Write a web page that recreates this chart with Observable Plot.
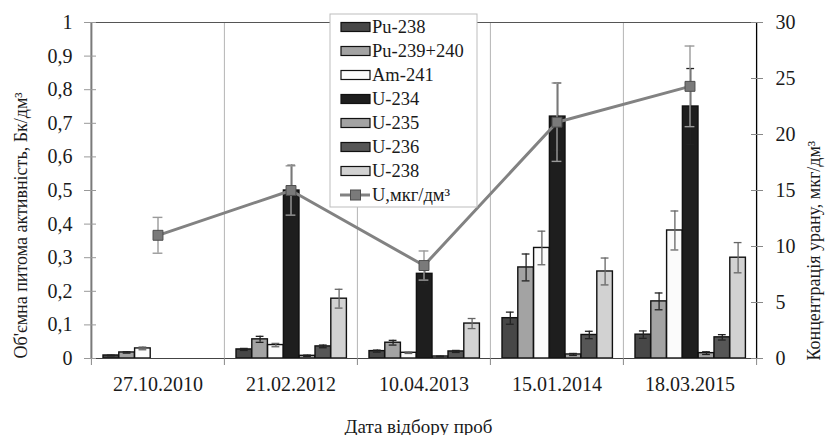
<!DOCTYPE html>
<html><head><meta charset="utf-8">
<script src="https://cdn.jsdelivr.net/npm/d3@7"></script>
<script src="https://cdn.jsdelivr.net/npm/@observablehq/plot@0.6"></script>
<style>
body{margin:0;background:#fff}
#chart{width:825px;height:435px;position:relative}
</style>
</head><body><div id="chart"></div>
<script>
// ---- data ----
const dates = ["27.10.2010", "21.02.2012", "10.04.2013", "15.01.2014", "18.03.2015"];
const isotopes = ["Pu-238", "Pu-239+240", "Am-241", "U-234", "U-235", "U-236", "U-238"];
const pu238 = [0.009, 0.027, 0.022, 0.120, 0.071];
const pu238Err = [0.001, 0.003, 0.003, 0.018, 0.011];
const pu239 = [0.018, 0.057, 0.047, 0.271, 0.170];
const pu239Err = [0.002, 0.009, 0.007, 0.040, 0.025];
const am241 = [0.030, 0.040, 0.017, 0.329, 0.381];
const am241Err = [0.004, 0.005, 0.002, 0.050, 0.058];
const u234 = [null, 0.500, 0.252, 0.720, 0.750];
const u234Err = [null, 0.075, 0.030, 0.100, 0.113];
const u235 = [null, 0.008, 0.006, 0.012, 0.016];
const u235Err = [null, 0.002, 0.001, 0.003, 0.004];
const u236 = [null, 0.036, 0.021, 0.070, 0.063];
const u236Err = [null, 0.004, 0.003, 0.011, 0.008];
const u238 = [null, 0.178, 0.104, 0.259, 0.300];
const u238Err = [null, 0.028, 0.015, 0.040, 0.045];
const uConc = [11.0, 15.0, 8.3, 21.1, 24.3];
const uConcErr = [1.6, 2.2, 1.3, 3.5, 3.6];
const lineName = "U,мкг/дм³";
const yTitle = "Об'ємна питома активність, Бк/дм³";
const y2Title = "Концентрація урану, мкг/дм³";
const xTitle = "Дата відбору проб";
const leftTicks = [0, 0.1, 0.2, 0.3, 0.4, 0.5, 0.6, 0.7, 0.8, 0.9, 1];
const rightTicks = [0, 5, 10, 15, 20, 25, 30];
const rightMax = 30;

const values = [pu238, pu239, am241, u234, u235, u236, u238];
const errors = [pu238Err, pu239Err, am241Err, u234Err, u235Err, u236Err, u238Err];
const colors = ["#474747", "#a3a3a3", "#fbfbfb", "#1e1e1e", "#a3a3a3", "#565656", "#d2d2d2"];

// ---- layout ----
const W = 825, H = 435, mL = 90, mR = 69, mT = 22, mB = 77;
const band = (W - mL - mR) / dates.length;
const groupPad = 12, barW = 15.8;
const font = "Liberation Serif, DejaVu Serif, serif";

const rows = [];
isotopes.forEach((iso, i) => dates.forEach((d, g) => {
  const v = values[i][g];
  if (v != null) rows.push({date: d, iso, v, e: errors[i][g]});
}));
const uRows = dates.map((d, g) => ({date: d, c: uConc[g], e: uConcErr[g]}));

const barMarks = [], errMarks = [];
isotopes.forEach((iso, i) => {
  const data = rows.filter(r => r.iso === iso);
  const left = groupPad + i * barW;
  const right = band - left - barW;
  const c = left + barW / 2 - band / 2;
  barMarks.push(Plot.barY(data, {x: "date", y: "v", fill: colors[i], stroke: "#111", strokeWidth: 1.4, insetLeft: left, insetRight: right}));
  const es = i === 2 || i === 6 ? "#666" : "#222";
  errMarks.push(
    Plot.ruleX(data, {x: "date", y1: r => Math.max(0, r.v - r.e), y2: r => r.v + r.e, dx: c, stroke: es, strokeWidth: 1.3}),
    Plot.tickY(data, {x: "date", y: r => r.v + r.e, insetLeft: left + barW / 2 - 4, insetRight: right + barW / 2 - 4, stroke: es, strokeWidth: 1.3}),
    Plot.tickY(data, {x: "date", y: r => Math.max(0, r.v - r.e), insetLeft: left + barW / 2 - 4, insetRight: right + barW / 2 - 4, stroke: es, strokeWidth: 1.3})
  );
});

const fmtL = d => (d === 0 || d === 1) ? String(d) : d.toFixed(1).replace(".", ",");
const yR = rightTicks.map(v => v / rightMax);
const blank = () => "";

const chart = Plot.plot({
  width: W, height: H,
  marginLeft: mL, marginRight: mR, marginTop: mT, marginBottom: mB,
  style: {fontFamily: font, fontSize: "20px", color: "#1a1a1a", background: "#fff", overflow: "visible"},
  x: {type: "band", domain: dates, padding: 0, label: null},
  y: {domain: [0, 1], label: null},
  marks: [
    Plot.gridX({dx: -band / 2, stroke: "#b5b5b5", strokeOpacity: 1, strokeWidth: 1}),
    Plot.ruleY([1], {stroke: "#555", strokeWidth: 1}),
    ...barMarks,
    ...errMarks,
    Plot.ruleY([0], {stroke: "#444", strokeWidth: 1.2}),
    Plot.ruleX([dates[0]], {dx: -band / 2, stroke: "#7a7a7a", strokeWidth: 2}),
    Plot.ruleX([dates[dates.length - 1]], {dx: band / 2, stroke: "#000", strokeWidth: 1.3}),
    Plot.axisX({anchor: "bottom", tickSize: 7, dx: -band / 2, tickFormat: blank, stroke: "#888", label: null}),
    Plot.axisX({anchor: "bottom", tickSize: 7, dx: band / 2, ticks: [dates[dates.length - 1]], tickFormat: blank, stroke: "#888", label: null}),
    Plot.axisX({anchor: "bottom", tickSize: 0, tickPadding: 18, fontSize: 20, label: null}),
    Plot.axisY({anchor: "left", ticks: leftTicks, tickSize: 12, dx: 6, tickFormat: blank, stroke: "#999", label: null}),
    Plot.axisY({anchor: "left", ticks: leftTicks, tickSize: 0, tickPadding: 18, tickFormat: fmtL, fontSize: 20, label: null}),
    Plot.axisY({anchor: "right", ticks: yR, tickSize: 12, dx: -6, tickFormat: blank, stroke: "#888", label: null}),
    Plot.axisY({anchor: "right", ticks: yR, tickSize: 0, tickPadding: 19, tickFormat: d => String(Math.round(d * rightMax)), fontSize: 20, label: null}),
    Plot.lineY(uRows, {x: "date", y: r => r.c / rightMax, stroke: "#828282", strokeWidth: 3}),
    Plot.ruleX(uRows, {x: "date", y1: r => (r.c - r.e) / rightMax, y2: r => (r.c + r.e) / rightMax, stroke: "#9a9a9a", strokeWidth: 1.4}),
    Plot.tickY(uRows, {x: "date", y: r => (r.c + r.e) / rightMax, insetLeft: band / 2 - 5, insetRight: band / 2 - 5, stroke: "#9a9a9a", strokeWidth: 1.4}),
    Plot.tickY(uRows, {x: "date", y: r => (r.c - r.e) / rightMax, insetLeft: band / 2 - 5, insetRight: band / 2 - 5, stroke: "#9a9a9a", strokeWidth: 1.4}),
    Plot.dot(uRows, {x: "date", y: r => r.c / rightMax, symbol: "square", r: 5.6, fill: "#7a7a7a", stroke: "#4d4d4d", strokeWidth: 1}),
    Plot.text([yTitle], {text: d => d, frameAnchor: "bottom-left", textAnchor: "start", dx: -64, dy: 0, rotate: -90, fontSize: 18, fill: "#1a1a1a"}),
    Plot.text([y2Title], {text: d => d, frameAnchor: "bottom-right", textAnchor: "start", dx: 63, dy: 2, rotate: -90, fontSize: 18, fill: "#1a1a1a"}),
    Plot.text([xTitle], {text: d => d, frameAnchor: "bottom", dx: -5, dy: 74, fontSize: 19, fill: "#1a1a1a"})
  ]
});
document.getElementById("chart").appendChild(chart);

const svg = d3.select(chart);
// fit the rotated titles to the extent they have in the reference
const fit = {[yTitle]: 318, [y2Title]: 284};
svg.selectAll("text").filter(function () { return fit[this.textContent] != null; })
  .each(function () {
    const want = fit[this.textContent];
    if (this.getComputedTextLength() > want) {
      d3.select(this).attr("textLength", want).attr("lengthAdjust", "spacingAndGlyphs");
    }
  });

// ---- legend ----
const lg = svg.append("g").attr("font-family", font).attr("font-size", 18.5).attr("text-anchor", "start");
const lx = 330, ly = 14, lw = 147, lh = 193, step = 24.0, y0 = 27;
lg.append("rect").attr("x", lx).attr("y", ly).attr("width", lw).attr("height", lh)
  .attr("fill", "#fff").attr("stroke", "#bdbdbd").attr("stroke-width", 1);
isotopes.forEach((iso, i) => {
  const cy = y0 + i * step;
  lg.append("rect").attr("x", 341).attr("y", cy - 4.5).attr("width", 29).attr("height", 9)
    .attr("fill", colors[i]).attr("stroke", "#111").attr("stroke-width", 1.2);
  lg.append("text").attr("x", 372).attr("y", cy + 6).attr("fill", "#1a1a1a").text(iso);
});
{
  const cy = y0 + isotopes.length * step;
  lg.append("line").attr("x1", 340).attr("x2", 370).attr("y1", cy).attr("y2", cy)
    .attr("stroke", "#828282").attr("stroke-width", 3);
  lg.append("rect").attr("x", 350.5).attr("y", cy - 5).attr("width", 10).attr("height", 10)
    .attr("fill", "#7a7a7a").attr("stroke", "#4d4d4d");
  lg.append("text").attr("x", 372).attr("y", cy + 6).attr("fill", "#1a1a1a").text(lineName);
}
</script>
</body></html>
